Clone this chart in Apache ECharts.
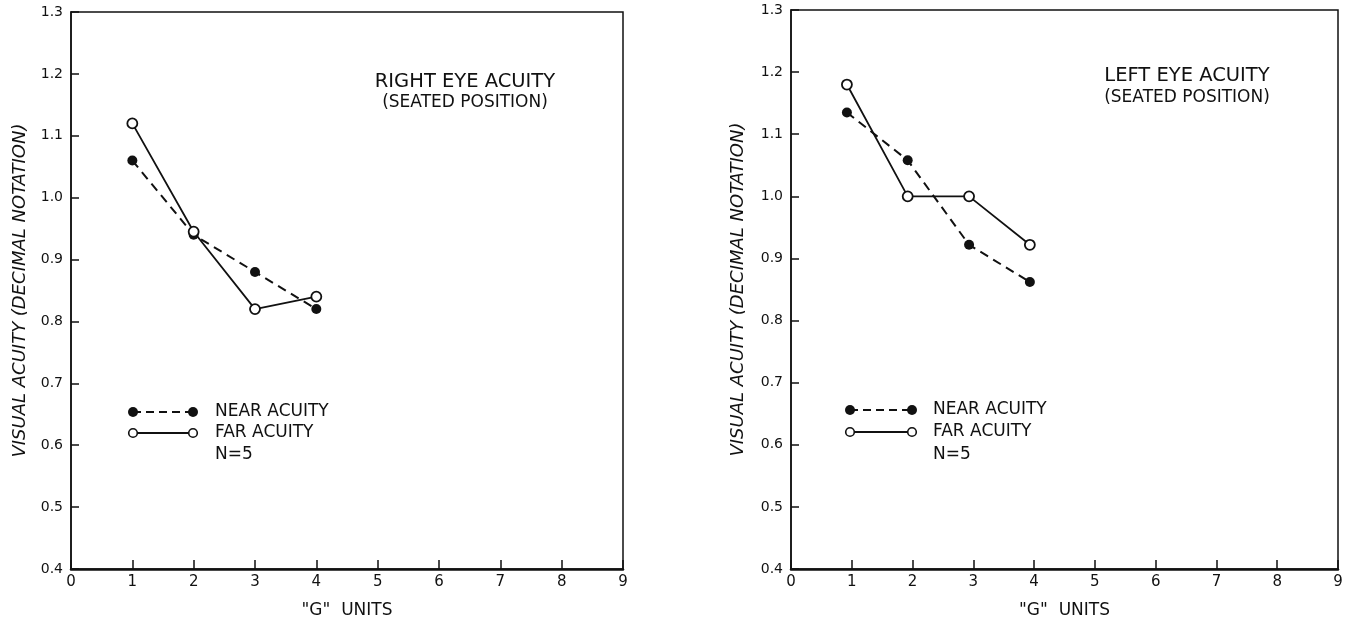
<!DOCTYPE html>
<html>
<head>
<meta charset="utf-8">
<script src="https://cdn.jsdelivr.net/npm/echarts@6/dist/echarts.min.js"></script>
<style>
html,body{margin:0;padding:0;background:#fff;}
#chart{width:1348px;height:624px;}
</style>
</head>
<body>
<div id="chart"></div>
<script>
// ---- data ----
// Panel 1: right eye acuity
const gUnitsRightEye = [1, 2, 3, 4];
const rightEyeNear = [1.06, 0.94, 0.88, 0.82];
const rightEyeFar = [1.12, 0.945, 0.82, 0.84];
// Panel 2: left eye acuity
const gUnitsLeftEye = [0.92, 1.92, 2.93, 3.93];
const leftEyeNear = [1.135, 1.058, 0.922, 0.862];
const leftEyeFar = [1.18, 1.0, 1.0, 0.922];
// axes
const xMin = 0, xMax = 9, xStep = 1;
const yMin = 0.4, yMax = 1.3, yStep = 0.1;
const panelTitles = ['RIGHT EYE ACUITY', 'LEFT EYE ACUITY'];
const panelSubtitle = '(SEATED POSITION)';
const legendNames = ['NEAR ACUITY', 'FAR ACUITY'];
const sampleNote = 'N=5';
const xName = '"G"  UNITS';
const yName = 'VISUAL ACUITY (DECIMAL NOTATION)';

const FONT = '"DejaVu Sans", sans-serif';
const INK = '#111';

function pairs(xs, ys) { return xs.map((x, i) => [x, ys[i]]); }

function xAxisCfg(gridIndex) {
  return {
    type: 'value', gridIndex, min: xMin, max: xMax, interval: xStep,
    name: xName, nameLocation: 'middle', nameGap: 33,
    nameTextStyle: { fontFamily: FONT, fontSize: 17, color: INK },
    axisLine: { show: true, lineStyle: { color: INK, width: 2.5 } },
    axisTick: { show: true, inside: true, length: 9, lineStyle: { color: INK, width: 1.5 } },
    axisLabel: { fontFamily: FONT, fontSize: 15, color: INK, margin: 6 },
    splitLine: { show: false }
  };
}
function yAxisCfg(gridIndex, gap) {
  return {
    type: 'value', gridIndex, min: yMin, max: yMax, interval: yStep,
    name: yName, nameLocation: 'middle', nameGap: gap,
    nameTextStyle: { fontFamily: FONT, fontSize: 18, fontStyle: 'italic', color: INK },
    axisLine: { show: true, lineStyle: { color: INK, width: 1.5 } },
    axisTick: { show: true, inside: true, length: 8, lineStyle: { color: INK, width: 1.5 } },
    axisLabel: { fontFamily: FONT, fontSize: 14, color: INK, margin: 8,
      formatter: v => v.toFixed(1) },
    splitLine: { show: false }
  };
}
function nearSeries(idx, xs, ys) {
  return {
    type: 'line', xAxisIndex: idx, yAxisIndex: idx, data: pairs(xs, ys),
    symbol: 'circle', symbolSize: 10,
    itemStyle: { color: INK },
    lineStyle: { color: INK, width: 2, type: [9, 6] },
    z: 2, animation: false, silent: true
  };
}
function farSeries(idx, xs, ys) {
  return {
    type: 'line', xAxisIndex: idx, yAxisIndex: idx, data: pairs(xs, ys),
    symbol: 'circle', symbolSize: 10,
    itemStyle: { color: '#fff', borderColor: INK, borderWidth: 1.8 },
    lineStyle: { color: INK, width: 1.8 },
    z: 3, animation: false, silent: true
  };
}
function legendGraphics(x1, x2, yNear, yFar, tx, yNote) {
  const g = [];
  g.push({ type: 'line', shape: { x1, y1: yNear, x2, y2: yNear },
    style: { stroke: INK, lineWidth: 2, lineDash: [8, 5] } });
  g.push({ type: 'line', shape: { x1, y1: yFar, x2, y2: yFar },
    style: { stroke: INK, lineWidth: 1.8 } });
  [x1, x2].forEach(cx => {
    g.push({ type: 'circle', shape: { cx, cy: yNear, r: 5 }, style: { fill: INK } });
    g.push({ type: 'circle', shape: { cx, cy: yFar, r: 4.3 }, style: { fill: '#fff', stroke: INK, lineWidth: 1.6 } });
  });
  const ts = (text, y) => ({ type: 'text', x: tx, y,
    style: { text, fontFamily: FONT, fontSize: 17, fill: INK, textAlign: 'left', textVerticalAlign: 'middle' } });
  g.push(ts(legendNames[0], yNear), ts(legendNames[1], yFar), ts(sampleNote, yNote));
  return g;
}
function titleGraphics(cx, y1, y2, title) {
  return [
    { type: 'text', x: cx, y: y1, style: { text: title, fontFamily: FONT, fontSize: 19.5, fill: INK, textAlign: 'center', textVerticalAlign: 'middle' } },
    { type: 'text', x: cx, y: y2, style: { text: panelSubtitle, fontFamily: FONT, fontSize: 17, fill: INK, textAlign: 'center', textVerticalAlign: 'middle' } }
  ];
}

const chart = echarts.init(document.getElementById('chart'), null, { renderer: 'canvas' });
chart.setOption({
  backgroundColor: '#fff',
  animation: false,
  grid: [
    { left: 71, top: 12, width: 552, height: 559, show: true, borderColor: INK, borderWidth: 1.5, backgroundColor: 'transparent' },
    { left: 791, top: 10, width: 547, height: 561, show: true, borderColor: INK, borderWidth: 1.5, backgroundColor: 'transparent' }
  ],
  xAxis: [xAxisCfg(0), xAxisCfg(1)],
  yAxis: [yAxisCfg(0, 42), yAxisCfg(1, 44)],
  series: [
    nearSeries(0, gUnitsRightEye, rightEyeNear),
    farSeries(0, gUnitsRightEye, rightEyeFar),
    nearSeries(1, gUnitsLeftEye, leftEyeNear),
    farSeries(1, gUnitsLeftEye, leftEyeFar)
  ],
  graphic: [].concat(
    titleGraphics(465, 82, 103, panelTitles[0]),
    titleGraphics(1187, 76, 98, panelTitles[1]),
    legendGraphics(133, 193, 412, 433, 215, 455),
    legendGraphics(850, 912, 410, 432, 933, 455)
  )
});
</script>
</body>
</html>
